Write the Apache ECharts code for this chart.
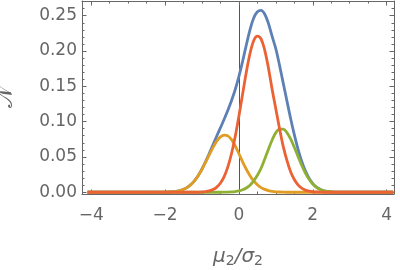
<!DOCTYPE html>
<html>
<head>
<meta charset="utf-8">
<script src="https://cdn.jsdelivr.net/npm/echarts@6/dist/echarts.min.js"></script>
<style>
html,body{margin:0;padding:0;background:#fff;}
#c{width:400px;height:270px;}
</style>
</head>
<body>
<div id="c"></div>
<script>
// x positions (mu2/sigma2)
var xs = [-4.1, -3.0, -2.5,
  -2.0, -1.9, -1.8, -1.7, -1.6, -1.5, -1.4, -1.3, -1.2, -1.1,
  -1.0, -0.9, -0.8, -0.7, -0.6, -0.5, -0.4, -0.3, -0.2, -0.1,
  0.0, 0.1, 0.2, 0.3, 0.4, 0.5, 0.6, 0.7, 0.8, 0.9,
  1.0, 1.1, 1.2, 1.3, 1.4, 1.5, 1.6, 1.7, 1.8, 1.9,
  2.0, 2.1, 2.2, 2.3, 2.4, 2.5, 2.6, 2.7, 3.0, 4.18];

var blueVals = [0, 0, 0,
  0.0002, 0.0003, 0.0007, 0.0013, 0.0024, 0.0042, 0.0069, 0.011, 0.0165, 0.0238,
  0.033, 0.0437, 0.0553, 0.0674, 0.0796, 0.0914, 0.1033, 0.116, 0.1298, 0.1455,
  0.1641, 0.1855, 0.2085, 0.2299, 0.2466, 0.2555, 0.2575, 0.252, 0.239, 0.2207,
  0.203, 0.1797, 0.1545, 0.1294, 0.1044, 0.0816, 0.0612, 0.044, 0.0302, 0.0198,
  0.0123, 0.0073, 0.0041, 0.0021, 0.0011, 0.0005, 0.0002, 0.0001, 0, 0];

var orangeVals = [0, 0, 0,
  0.0002, 0.0003, 0.0007, 0.0013, 0.0024, 0.0042, 0.0069, 0.011, 0.0165, 0.0238,
  0.0326, 0.0428, 0.0534, 0.0636, 0.0723, 0.0783, 0.081, 0.0798, 0.0745, 0.0655,
  0.0545, 0.043, 0.0325, 0.0235, 0.016, 0.0105, 0.0065, 0.004, 0.0023, 0.0012,
  0.0006, 0.0003, 0.0001, 0, 0, 0, 0, 0, 0, 0,
  0, 0, 0, 0, 0, 0, 0, 0, 0, 0];

var greenVals = [0, 0, 0,
  0, 0, 0, 0, 0, 0, 0, 0, 0, 0,
  0, 0, 0, 0, 0, 0, 0.0001, 0.0002, 0.0005, 0.001,
  0.0018, 0.0035, 0.006, 0.010, 0.016, 0.024, 0.034, 0.047, 0.061, 0.074,
  0.0844, 0.0894, 0.0894, 0.0844, 0.0754, 0.0636, 0.0507, 0.0382, 0.0272, 0.0183,
  0.0116, 0.007, 0.004, 0.0021, 0.0011, 0.0005, 0.0002, 0.0001, 0, 0];

var redVals = [0, 0, 0,
  0, 0, 0, 0, 0, 0, 0, 0, 0, 0,
  0.0004, 0.0009, 0.0019, 0.0038, 0.0073, 0.0131, 0.0222, 0.036, 0.0548, 0.079,
  0.1078, 0.139, 0.170, 0.1964, 0.2146, 0.221, 0.217, 0.201, 0.1757, 0.1455,
  0.118, 0.090, 0.065, 0.045, 0.029, 0.018, 0.0105, 0.0058, 0.003, 0.0015,
  0.0007, 0.0003, 0.0001, 0, 0, 0, 0, 0, 0, 0];

var xMajorTicks = [-4, -2, 0, 2, 4];
var xMinorTicks = [-4, -3.5, -3, -2.5, -2, -1.5, -1, -0.5, 0, 0.5, 1, 1.5, 2, 2.5, 3, 3.5, 4];
var yMajorTicks = [0, 0.05, 0.10, 0.15, 0.20, 0.25];
var yMinorTicks = [0, 0.01, 0.02, 0.03, 0.04, 0.05, 0.06, 0.07, 0.08, 0.09, 0.10, 0.11, 0.12, 0.13, 0.14, 0.15, 0.16, 0.17, 0.18, 0.19, 0.20, 0.21, 0.22, 0.23, 0.24, 0.25, 0.26, 0.27];

var FRAME = '#666666';
var FONT = 'DejaVu Sans';
var X_MIN = -4.25, X_MAX = 4.2, Y_MIN = -0.0025, Y_MAX = 0.2708;

function pairs(vals){ return xs.map(function(x,i){ return [x, vals[i]]; }); }

function xAx(pos, major, showLabel, showLine, name){
  var a = {
    type: 'value', position: pos, min: X_MIN, max: X_MAX,
    splitLine: {show:false},
    axisLine: {show: showLine, onZero: false, lineStyle: {color: FRAME, width: 1}},
    axisTick: {show: true, inside: true, length: major ? 4.5 : 2.5,
      customValues: major ? xMajorTicks : xMinorTicks,
      lineStyle: {color: FRAME, width: 1}},
    axisLabel: {show: showLabel, customValues: xMajorTicks, color: FRAME,
      fontFamily: FONT, fontSize: 17, margin: 13,
      formatter: function(v){ return v < 0 ? '\u2212' + (-v) : String(v); }}
  };
  if (name) {
    a.name = '{i|\u03bc}{s|2}{i|/\u03c3}{s|2}';
    a.nameLocation = 'middle';
    a.nameGap = 51;
    a.nameTextStyle = {
      color: FRAME,
      rich: {
        i: {fontFamily: FONT, fontStyle: 'italic', fontSize: 20, color: FRAME},
        s: {fontFamily: FONT, fontSize: 14, color: FRAME, padding: [9, 0, 0, 0]}
      }
    };
  }
  return a;
}
function yAx(pos, major, showLabel, showLine, name){
  var a = {
    type: 'value', position: pos, min: Y_MIN, max: Y_MAX,
    splitLine: {show:false},
    axisLine: {show: showLine, onZero: false, lineStyle: {color: FRAME, width: 1}},
    axisTick: {show: true, inside: true, length: major ? 4.5 : 2.5,
      customValues: major ? yMajorTicks : yMinorTicks,
      lineStyle: {color: FRAME, width: 1}},
    axisLabel: {show: showLabel, customValues: yMajorTicks, color: FRAME,
      fontFamily: FONT, fontSize: 17, margin: 5,
      formatter: function(v){ return v.toFixed(2); }}
  };
  if (name) {
    a.name = '\ud835\udca9';
    a.nameLocation = 'middle';
    a.nameGap = 65;
    a.nameRotate = 90;
    a.nameTextStyle = {color: FRAME, fontFamily: FONT, fontSize: 22};
  }
  return a;
}

var chart = echarts.init(document.getElementById('c'), null, {renderer: 'canvas'});
function line(vals, color){
  return {type: 'line', data: pairs(vals), showSymbol: false, symbol: 'none',
    xAxisIndex: 0, yAxisIndex: 0, smooth: 0.35, silent: true,
    lineStyle: {color: color, width: 2.8, cap: 'butt', join: 'round'}};
}
var s0 = line(blueVals, '#5E81B5');
s0.markLine = {silent: true, symbol: 'none', label: {show: false},
  lineStyle: {color: '#555555', width: 1, type: 'solid'},
  data: [{xAxis: 0}]};
s0.markLine.z = 0;
chart.setOption({
  animation: false,
  backgroundColor: '#ffffff',
  grid: {left: 82, right: 6, top: 1, bottom: 76, containLabel: false, outerBoundsMode: 'none'},
  xAxis: [
    xAx('bottom', true, true, true, true),
    xAx('bottom', false, false, false, false),
    xAx('top', true, false, true, false),
    xAx('top', false, false, false, false)
  ],
  yAxis: [
    yAx('left', true, true, true, true),
    yAx('left', false, false, false, false),
    yAx('right', true, false, true, false),
    yAx('right', false, false, false, false)
  ],
  series: [
    s0,
    line(orangeVals, '#E19C24'),
    line(greenVals, '#8FB032'),
    line(redVals, '#EB6235')
  ]
});
</script>
</body>
</html>
